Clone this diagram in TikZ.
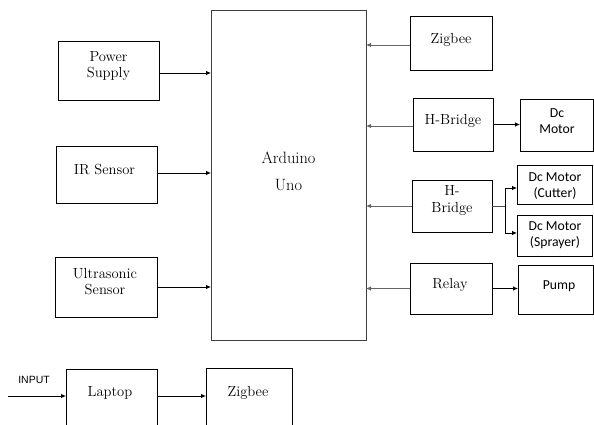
\documentclass[tikz,border=0pt]{standalone}
\usepackage{fontspec}
\newfontfamily\carlito{Carlito}
\newfontfamily\arialf{Liberation Sans}
\usetikzlibrary{arrows.meta,calc}
\begin{document}
\begin{tikzpicture}[x=1pt,y=-1pt,
  box/.style={draw=black,line width=0.8pt,rectangle,inner sep=0pt,outer sep=0pt},
  gbox/.style={box,draw=black!75},
  st/.style={inner sep=0pt,align=center,font=\rmfamily\fontsize{14.6}{16}\selectfont},
  ss/.style={inner sep=0pt,align=center,font=\carlito\fontsize{13.7}{16}\selectfont},
  arr/.style={line width=0.8pt,-{Latex[length=5pt,width=4.5pt]}},
  garr/.style={arr,draw=black!60},
  ]
\useasboundingbox (0,0) rectangle (594,425);
\clip (0,0) rectangle (594,425);
% left column
\node[box,minimum width=101pt,minimum height=59pt] (ps) at (108.5,70.5) {};
\node[st] (pst) at (108.5,66) {Power\\Supply};
\node[box,minimum width=101pt,minimum height=57pt] (ir) at (106.5,174.5) {};
\node[st] (irt) at (104.5,169.5) {IR Sensor};
\node[box,minimum width=102pt,minimum height=60pt] (us) at (106,287) {};
\node[st] (ust) at (105,282) {Ultrasonic\\Sensor};
% Arduino
\node[gbox,minimum width=155pt,minimum height=330pt] (ard) at (288.5,175) {};
\node[st,font=\rmfamily\fontsize{16.4}{27}\selectfont] (ardt) at (288.5,171) {Arduino\\Uno};
% right column
\node[box,minimum width=82pt,minimum height=54pt] (zt) at (451,43) {};
\node[st] (ztt) at (451,39.5) {Zigbee};
\node[box,minimum width=80pt,minimum height=53pt] (hb1) at (453,124.5) {};
\node[st] (hb1t) at (453,120.5) {H-Bridge};
\node[box,minimum width=73pt,minimum height=52pt] (dcm) at (556.5,125) {};
\node[ss] (dcmt) at (557,121) {Dc\\Motor};
\node[box,minimum width=80pt,minimum height=52pt] (hb2) at (452,206) {};
\node[st,font=\rmfamily\fontsize{14.6}{17}\selectfont] (hb2t) at (452,201) {H-\\Bridge};
\node[box,minimum width=75pt,minimum height=39pt] (cut) at (554.5,184.5) {};
\node[ss] (cutt) at (555,186) {Dc Motor\\(Cutter)};
\node[box,minimum width=75pt,minimum height=41pt] (spr) at (554.5,235.5) {};
\node[ss] (sprt) at (555,235) {Dc Motor\\(Sprayer)};
\node[box,minimum width=82pt,minimum height=51pt] (rel) at (451,288.5) {};
\node[st] (relt) at (450,284.5) {Relay};
\node[box,minimum width=75pt,minimum height=49pt] (pump) at (555.5,289.5) {};
\node[ss] (pumpt) at (559,286.5) {Pump};
% bottom row
\node[box,minimum width=91pt,minimum height=80pt] (lap) at (111.5,409) {};
\node[st] (lapt) at (110,393) {Laptop};
\node[box,minimum width=86pt,minimum height=80pt] (zb) at (249,408) {};
\node[st] (zbt) at (248,393) {Zigbee};
\coordinate (in) at (8,396);
\node[inner sep=0pt,font=\arialf\fontsize{10.5}{12}\selectfont] (inl) at (34,380) {INPUT};
% connectors into Arduino
\draw[arr] (ps.east |- 0,73) -- (ard.west |- 0,73);
\draw[arr] (ir.east |- 0,173) -- (ard.west |- 0,173);
\draw[arr] (us.east) -- (us.east -| ard.west);
\draw[garr] (zt.west |- 0,45) -- (ard.east |- 0,45);
\draw[garr] (hb1.west |- 0,126) -- (ard.east |- 0,126);
\draw[garr] (hb2.west) -- (hb2.west -| ard.east);
\draw[garr] (rel.west) -- (rel.west -| ard.east);
% outputs
\draw[arr] (hb1.east) -- (hb1.east -| dcm.west);
\coordinate (br) at (505,206);
\draw[line width=0.8pt,draw=black!70] (hb2.east) -- (br);
\draw[arr] (br) -- (br |- 0,188) -- (cut.west |- 0,188);
\draw[arr] (br) -- (br |- 0,233) -- (spr.west |- 0,233);
\draw[arr] (rel.east) -- (rel.east -| pump.west);
% bottom
\draw[arr] (in) -- (in -| lap.west);
\draw[arr] (lap.east |- in) -- (zb.west |- in);
\end{tikzpicture}
\end{document}
